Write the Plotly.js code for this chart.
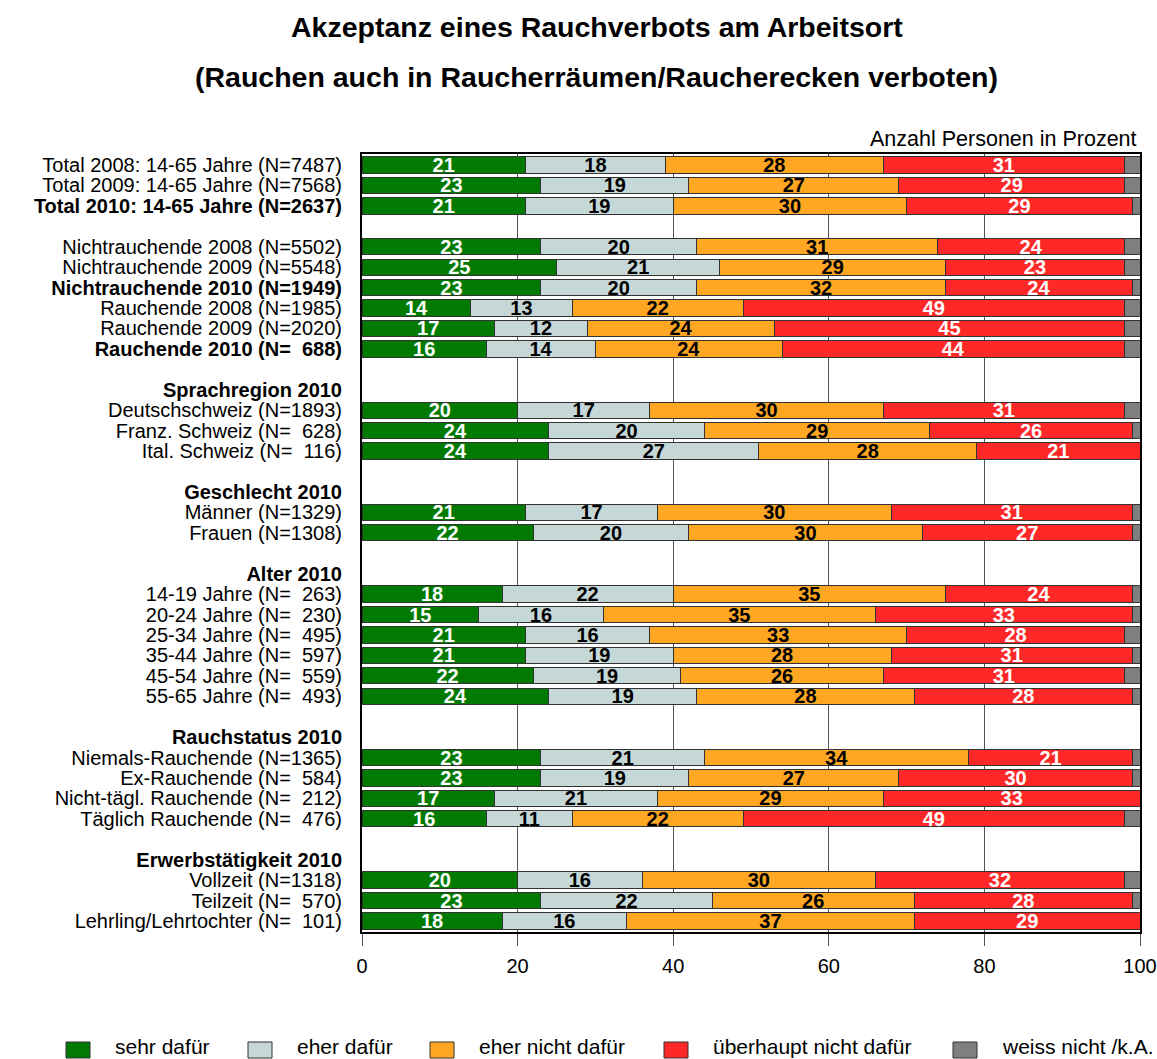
<!DOCTYPE html>
<html><head><meta charset="utf-8">
<script src="https://cdn.plot.ly/plotly-3.0.1.min.js"></script>
<style>html,body{margin:0;padding:0;background:#fff}</style>
</head><body>
<div id="chart" style="width:1157px;height:1059px"></div>
<script>
const rowLabels = [
  "Total 2008: 14-65 Jahre (N=7487)",
  "Total 2009: 14-65 Jahre (N=7568)",
  "<b>Total 2010: 14-65 Jahre (N=2637)</b>",
  "",
  "Nichtrauchende 2008 (N=5502)",
  "Nichtrauchende 2009 (N=5548)",
  "<b>Nichtrauchende 2010 (N=1949)</b>",
  "Rauchende 2008 (N=1985)",
  "Rauchende 2009 (N=2020)",
  "<b>Rauchende 2010 (N= \u00A0688)</b>",
  "",
  "<b>Sprachregion 2010</b>",
  "Deutschschweiz (N=1893)",
  "Franz. Schweiz (N= \u00A0628)",
  "Ital. Schweiz (N= \u00A0116)",
  "",
  "<b>Geschlecht 2010</b>",
  "Männer (N=1329)",
  "Frauen (N=1308)",
  "",
  "<b>Alter 2010</b>",
  "14-19 Jahre (N= \u00A0263)",
  "20-24 Jahre (N= \u00A0230)",
  "25-34 Jahre (N= \u00A0495)",
  "35-44 Jahre (N= \u00A0597)",
  "45-54 Jahre (N= \u00A0559)",
  "55-65 Jahre (N= \u00A0493)",
  "",
  "<b>Rauchstatus 2010</b>",
  "Niemals-Rauchende (N=1365)",
  "Ex-Rauchende (N= \u00A0584)",
  "Nicht-tägl. Rauchende (N= \u00A0212)",
  "Täglich Rauchende (N= \u00A0476)",
  "",
  "<b>Erwerbstätigkeit 2010</b>",
  "Vollzeit (N=1318)",
  "Teilzeit (N= \u00A0570)",
  "Lehrling/Lehrtochter (N= \u00A0101)"
];

const sehrDafuer = [21,23,21,null,23,25,23,14,17,16,null,null,20,24,24,null,null,21,22,null,null,18,15,21,21,22,24,null,null,23,23,17,16,null,null,20,23,18];
const eherDafuer = [18,19,19,null,20,21,20,13,12,14,null,null,17,20,27,null,null,17,20,null,null,22,16,16,19,19,19,null,null,21,19,21,11,null,null,16,22,16];
const eherNichtDafuer = [28,27,30,null,31,29,32,22,24,24,null,null,30,29,28,null,null,30,30,null,null,35,35,33,28,26,28,null,null,34,27,29,22,null,null,30,26,37];
const ueberhauptNichtDafuer = [31,29,29,null,24,23,24,49,45,44,null,null,31,26,21,null,null,31,27,null,null,24,33,28,31,31,28,null,null,21,30,33,49,null,null,32,28,29];
const weissNicht = [2,2,1,null,2,2,1,2,2,2,null,null,2,1,0,null,null,1,1,null,null,1,1,2,1,2,1,null,null,1,1,0,2,null,null,2,1,0];

const seriesNames = ["sehr dafür","eher dafür","eher nicht dafür","überhaupt nicht dafür","weiss nicht /k.A."];
const seriesColors = ["#007A00","#C5D7D6","#FFA622","#FF2828","#7F7F7F"];
const seriesTextColors = ["#FFFFFF","#000000","#000000","#FFFFFF",null];
const xTicks = [0,20,40,60,80,100];

const titleLine1 = "Akzeptanz eines Rauchverbots am Arbeitsort";
const titleLine2 = "(Rauchen auch in Raucherräumen/Raucherecken verboten)";
const unitNote = "Anzahl Personen in Prozent";

const seriesValues = [sehrDafuer, eherDafuer, eherNichtDafuer, ueberhauptNichtDafuer, weissNicht];
const rowIdx = rowLabels.map((_, i) => i);
const FONT = "Liberation Sans, Arial, Helvetica, sans-serif";

const traces = seriesValues.map((vals, k) => {
  const t = {
    type: "bar",
    orientation: "h",
    name: seriesNames[k],
    x: vals,
    y: rowIdx,
    marker: {color: seriesColors[k], line: {color: "#333333", width: 1}},
    hoverinfo: "skip",
    showlegend: false
  };
  if (seriesTextColors[k]) {
    t.text = vals.map(v => v == null ? "" : String(v));
    t.textposition = "inside";
    t.insidetextanchor = "middle";
    t.constraintext = "none";
    t.textangle = 0;
    t.insidetextfont = {family: FONT, size: 20, color: seriesTextColors[k], weight: "bold"};
  } else {
    t.textposition = "none";
  }
  return t;
});

// pixel geometry of the plot frame
const W = 1157, H = 1059;
const L = 362, R = 1140, T = 154, B = 932;
const px = x => (x - L) / (R - L);
const py = y => (B - y) / (B - T);

const shapes = [];
const annotations = [
  {text: "<b>" + titleLine1 + "</b>", xref: "paper", yref: "paper", x: px(597), y: py(27),
   xanchor: "center", yanchor: "middle", showarrow: false, font: {family: FONT, size: 28.5, color: "#000"}},
  {text: "<b>" + titleLine2 + "</b>", xref: "paper", yref: "paper", x: px(596), y: py(77),
   xanchor: "center", yanchor: "middle", showarrow: false, font: {family: FONT, size: 28.5, color: "#000"}},
  {text: unitNote, xref: "paper", yref: "paper", x: px(1139), y: py(139),
   xanchor: "right", yanchor: "middle", showarrow: false, font: {family: FONT, size: 21.5, color: "#000"}}
];

const legendLeft = [66, 248, 430, 664, 953];
seriesNames.forEach((nm, k) => {
  const x0 = legendLeft[k];
  shapes.push({type: "rect", xref: "paper", yref: "paper",
    x0: px(x0), x1: px(x0 + 24), y0: py(1058), y1: py(1042),
    fillcolor: seriesColors[k], line: {color: "#333333", width: 1}});
  annotations.push({text: nm, xref: "paper", yref: "paper", x: px(x0 + 48), y: py(1059),
    xanchor: "left", yanchor: "bottom", showarrow: false, borderpad: 0,
    font: {family: FONT, size: 21, color: "#000"}});
});

const layout = {
  width: W, height: H,
  margin: {l: L, r: W - R, t: T, b: H - B, pad: 0},
  paper_bgcolor: "#fff", plot_bgcolor: "#fff",
  barmode: "stack",
  bargap: 0.2,
  showlegend: false,
  font: {family: FONT, size: 20, color: "#000"},
  xaxis: {
    range: [0, 100], tickvals: xTicks, ticktext: xTicks.map(String),
    ticks: "outside", ticklen: 12, tickwidth: 1, tickcolor: "#555",
    showgrid: true, gridcolor: "#555", gridwidth: 1, zeroline: false,
    showline: true, linecolor: "#000", linewidth: 2, mirror: true,
    ticklabelstandoff: 3,
    tickfont: {family: FONT, size: 20, color: "#000"}, fixedrange: true
  },
  yaxis: {
    range: [rowLabels.length - 0.46, -0.54],
    tickvals: rowIdx, ticktext: rowLabels,
    ticks: "", showgrid: false, zeroline: false,
    showline: true, linecolor: "#000", linewidth: 2, mirror: true,
    ticklabelstandoff: 14,
    tickfont: {family: FONT, size: 20, color: "#000"}, fixedrange: true
  },
  shapes: shapes,
  annotations: annotations
};

Plotly.newPlot("chart", traces, layout, {displayModeBar: false, staticPlot: true});
</script>
</body></html>
